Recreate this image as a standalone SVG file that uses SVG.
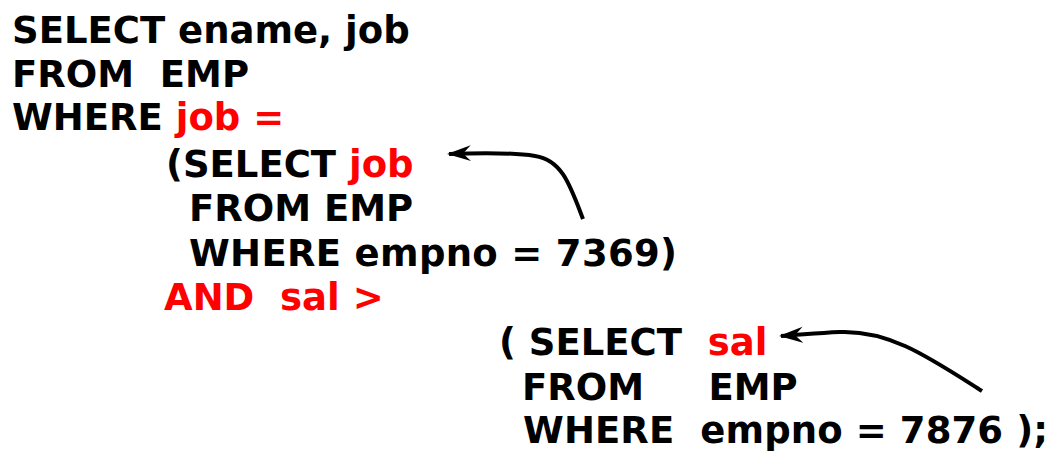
<svg xmlns="http://www.w3.org/2000/svg" width="1058" height="451" viewBox="0 0 1058 451">
<defs>
<style>
text{font-family:"DejaVu Sans",Verdana,sans-serif;font-weight:bold;font-size:37px;fill:#000;white-space:pre}
.r{fill:#ff0000}
.c{fill:none;stroke:#000;stroke-width:4;stroke-linecap:butt}
</style>
<marker id="ah" viewBox="0 0 12 10" refX="11" refY="5" markerWidth="6" markerHeight="5" markerUnits="strokeWidth" orient="auto">
<path d="M0,1 L12,5 L0,9 L4,5 Z" fill="#000"/>
</marker>
</defs>
<rect width="1058" height="451" fill="#fff"/>
<g id="outer-query">
<text x="12" y="43">SELECT ename, job</text>
<text x="12" y="87">FROM  EMP</text>
<text x="12" y="130">WHERE <tspan class="r">job =</tspan></text>
</g>
<g id="subquery-1">
<text x="166" y="177">(SELECT <tspan class="r">job</tspan></text>
<text x="189" y="221">FROM EMP</text>
<text x="189" y="266" textLength="488" lengthAdjust="spacing">WHERE empno = 7369)</text>
</g>
<g id="and-clause">
<text x="164" y="310" class="r">AND  sal &gt;</text>
</g>
<g id="subquery-2">
<text x="499" y="355">( SELECT  <tspan class="r">sal</tspan></text>
<text x="522" y="400">FROM     EMP</text>
<text x="523" y="443" textLength="525" lengthAdjust="spacing">WHERE  empno = 7876 );</text>
</g>
<g id="connectors">
<path class="c" d="M583,219 C570,185 562,160 535,156 C510,152 475,153 449,154" marker-end="url(#ah)"/>
<path class="c" d="M982,391 C930,358 890,330 840,332 C815,333 800,335 781,336" marker-end="url(#ah)"/>
</g>
</svg>
